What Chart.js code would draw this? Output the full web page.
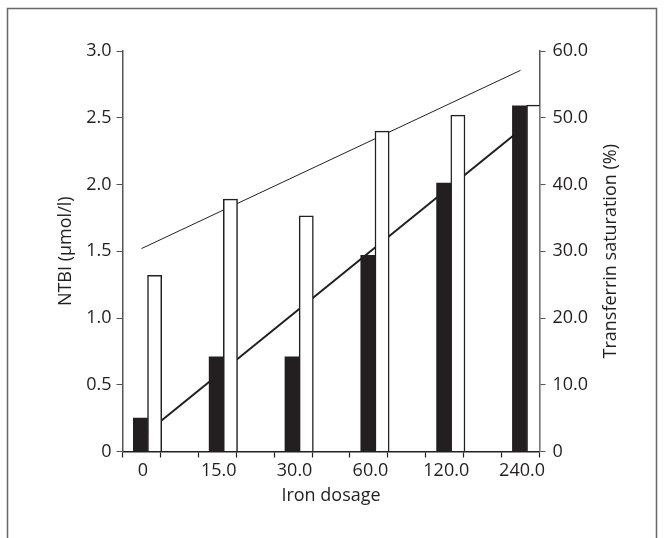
<!DOCTYPE html>
<html>
<head>
    <title>NTBI and transferrin saturation by iron dosage</title>
    <script src="https://cdn.jsdelivr.net/npm/chart.js"></script>
    <style>
        body {
            margin: 0;
            background: #fff;
        }
        canvas {
            display: block;
        }
    </style>
</head>
<body>
    <canvas id="myChart" width="664" height="538"></canvas>

    <script>
        // Data
        const dosages = ['0', '15.0', '30.0', '60.0', '120.0', '240.0'];
        const ntbi = [0.25, 0.71, 0.71, 1.47, 2.01, 2.59];          // black bars, left axis (µmol/l)
        const saturation = [26.4, 37.8, 35.3, 48.0, 50.4, 51.9];    // white bars, right axis (%)
        const ntbiTrend = [0.11, 2.41];         // thick line, first and last dosage
        const saturationTrend = [30.4, 57.1];   // thin line, first and last dosage
        const ntbiTicks = [0, 0.5, 1.0, 1.5, 2.0, 2.5, 3.0];
        const saturationTicks = [0, 10, 20, 30, 40, 50, 60];

        const ink = '#231f20';
        const axisGrey = '#555555';

        // x is measured in categories; bar pairs sit a bit right of the label
        const barOffset = 0.33;
        const labelOffset = 0.27;
        const lineOffset = 0.25;
        const xMax = 5.5;

        const markTicks = [];
        for (let v = 0; v <= xMax + 1e-9; v += 0.5) markTicks.push(v);
        const labelTicks = dosages.map((_, i) => i + labelOffset);

        function labelIndex(value) {
            return labelTicks.findIndex(t => Math.abs(t - value) < 1e-6);
        }

        Chart.defaults.font.family = "'Open Sans', 'DejaVu Sans', sans-serif";
        Chart.defaults.font.size = 18;
        Chart.defaults.color = ink;

        // frame round the figure and the right-hand title (reads upward)
        const extras = {
            id: 'extras',
            afterDraw(chart) {
                const ctx = chart.ctx;
                ctx.save();
                ctx.strokeStyle = '#666666';
                ctx.lineWidth = 1.5;
                ctx.beginPath();
                ctx.moveTo(7.5, 538);
                ctx.lineTo(7.5, 8.5);
                ctx.lineTo(656.5, 8.5);
                ctx.lineTo(656.5, 538);
                ctx.stroke();

                const area = chart.chartArea;
                ctx.translate(611, (area.top + area.bottom) / 2);
                ctx.rotate(-Math.PI / 2);
                ctx.fillStyle = ink;
                ctx.font = "18px 'Open Sans', 'DejaVu Sans', sans-serif";
                ctx.textAlign = 'center';
                ctx.textBaseline = 'middle';
                ctx.fillText('Transferrin saturation (%)', 0, 0);
                ctx.restore();
            }
        };

        new Chart(document.getElementById('myChart').getContext('2d'), {
            type: 'bar',
            data: {
                datasets: [
                    {
                        label: 'NTBI',
                        data: ntbi.map((v, i) => ({ x: i + barOffset, y: v })),
                        backgroundColor: ink,
                        borderColor: ink,
                        borderWidth: 0,
                        barThickness: 14.2,
                        yAxisID: 'y'
                    },
                    {
                        label: 'Transferrin saturation',
                        data: saturation.map((v, i) => ({ x: i + barOffset, y: v })),
                        backgroundColor: '#ffffff',
                        borderColor: ink,
                        borderWidth: 1.5,
                        barThickness: 14.2,
                        yAxisID: 'y1'
                    },
                    {
                        type: 'line',
                        label: 'NTBI trend',
                        data: ntbiTrend.map((v, k) => ({ x: k * (dosages.length - 1) + lineOffset, y: v })),
                        borderColor: ink,
                        borderWidth: 2,
                        pointRadius: 0,
                        fill: false,
                        yAxisID: 'y'
                    },
                    {
                        type: 'line',
                        label: 'Saturation trend',
                        data: saturationTrend.map((v, k) => ({ x: k * (dosages.length - 1) + lineOffset, y: v })),
                        borderColor: ink,
                        borderWidth: 1,
                        pointRadius: 0,
                        fill: false,
                        yAxisID: 'y1'
                    }
                ]
            },
            options: {
                responsive: false,
                animation: false,
                layout: {
                    padding: { top: 51, right: 0, bottom: 0, left: 0 }
                },
                plugins: {
                    legend: { display: false },
                    tooltip: { enabled: false }
                },
                scales: {
                    x: {
                        type: 'linear',
                        offset: false,
                        min: 0,
                        max: xMax,
                        afterBuildTicks: scale => {
                            scale.ticks = markTicks.concat(labelTicks).map(v => ({ value: v }));
                        },
                        afterFit: scale => { scale.height = 86.5; },
                        border: { color: ink, width: 1.5 },
                        grid: {
                            offset: false,
                            drawOnChartArea: false,
                            tickLength: 6,
                            tickWidth: 1.2,
                            color: ctx => (ctx.tick && labelIndex(ctx.tick.value) >= 0) ? 'rgba(0,0,0,0)' : ink
                        },
                        ticks: {
                            autoSkip: false,
                            maxRotation: 0,
                            padding: 3,
                            callback: value => {
                                const i = labelIndex(value);
                                return i >= 0 ? dosages[i] : '';
                            }
                        },
                        title: {
                            display: true,
                            text: 'Iron dosage',
                            padding: { top: 0, bottom: 31 }
                        }
                    },
                    y: {
                        position: 'left',
                        min: 0,
                        max: 3,
                        afterBuildTicks: scale => {
                            scale.ticks = ntbiTicks.map(v => ({ value: v }));
                        },
                        afterFit: scale => { scale.width = 122.5; },
                        border: { color: axisGrey, width: 1.5 },
                        grid: {
                            drawOnChartArea: false,
                            tickLength: 6,
                            color: axisGrey
                        },
                        ticks: {
                            padding: 5,
                            callback: v => v === 0 ? '0' : v.toFixed(1)
                        },
                        title: {
                            display: true,
                            text: 'NTBI (µmol/l)',
                            padding: { top: 55, bottom: 0 }
                        }
                    },
                    y1: {
                        position: 'right',
                        min: 0,
                        max: 60,
                        afterBuildTicks: scale => {
                            scale.ticks = saturationTicks.map(v => ({ value: v }));
                        },
                        afterFit: scale => { scale.width = 124.5; },
                        border: { color: axisGrey, width: 1.5 },
                        grid: {
                            drawOnChartArea: false,
                            tickLength: 6,
                            color: axisGrey
                        },
                        ticks: {
                            padding: 7,
                            callback: v => v === 0 ? '0' : v.toFixed(1)
                        }
                    }
                }
            },
            plugins: [extras]
        });
    </script>
</body>
</html>
